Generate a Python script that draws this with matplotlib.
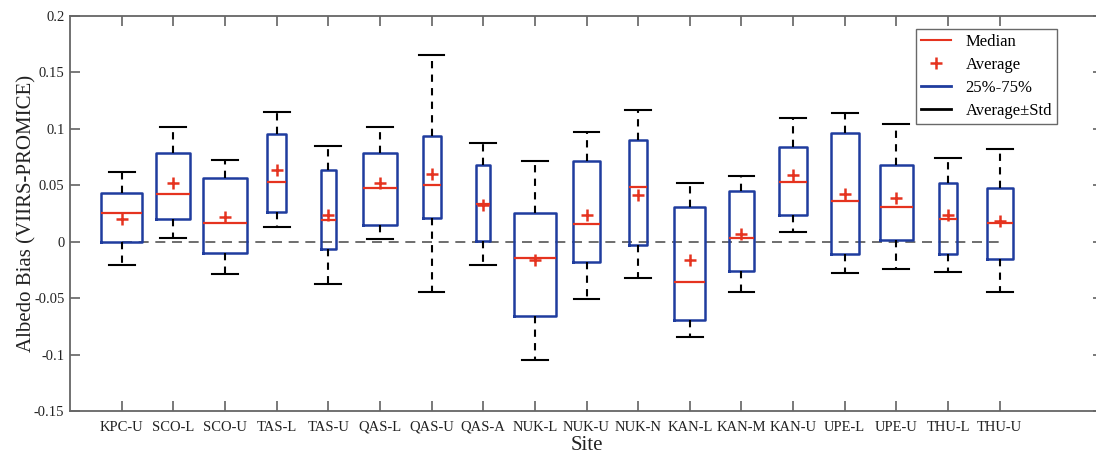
import matplotlib
matplotlib.use("Agg")
import matplotlib.pyplot as plt
from matplotlib.lines import Line2D

sites = ["KPC-U", "SCO-L", "SCO-U", "TAS-L", "TAS-U", "QAS-L", "QAS-U", "QAS-A",
         "NUK-L", "NUK-U", "NUK-N", "KAN-L", "KAN-M", "KAN-U", "UPE-L", "UPE-U",
         "THU-L", "THU-U"]
q1 = [-0.0006, 0.0198, -0.0100, 0.0260, -0.0062, 0.0150, 0.0210, 0.0010,
      -0.0660, -0.0183, -0.0030, -0.0690, -0.0260, 0.0239, -0.0112, 0.0018,
      -0.0109, -0.0156]
q3 = [0.0430, 0.0790, 0.0563, 0.0956, 0.0634, 0.0788, 0.0935, 0.0681,
      0.0257, 0.0714, 0.0897, 0.0304, 0.0445, 0.0838, 0.0965, 0.0676,
      0.0522, 0.0475]
median = [0.0254, 0.0420, 0.0168, 0.0528, 0.0189, 0.0472, 0.0504, 0.0330,
          -0.0145, 0.0159, 0.0481, -0.0357, 0.0035, 0.0531, 0.0363, 0.0304,
          0.0198, 0.0168]
average = [0.0200, 0.0520, 0.0215, 0.0637, 0.0239, 0.0520, 0.0599, 0.0324,
           -0.0162, 0.0233, 0.0416, -0.0162, 0.0071, 0.0590, 0.0425, 0.0390,
           0.0233, 0.0183]
avg_plus_std = [0.0622, 0.1020, 0.0720, 0.1147, 0.0847, 0.1020, 0.1658, 0.0876,
                0.0717, 0.0973, 0.1165, 0.0516, 0.0584, 0.1100, 0.1139, 0.1044,
                0.0746, 0.0823]
avg_minus_std = [-0.0204, 0.0030, -0.0283, 0.0127, -0.0375, 0.0027, -0.0448, -0.0210,
                 -0.1050, -0.0504, -0.0324, -0.0844, -0.0445, 0.0086, -0.0280, -0.0245,
                 -0.0265, -0.0448]
box_widths = [0.80, 0.66, 0.84, 0.37, 0.29, 0.66, 0.35, 0.26, 0.80, 0.52, 0.355,
              0.60, 0.50, 0.55, 0.535, 0.64, 0.34, 0.51]
yticks = [-0.15, -0.1, -0.05, 0, 0.05, 0.1, 0.15, 0.2]
ytick_labels = ["-0.15", "-0.1", "-0.05", "0", "0.05", "0.1", "0.15", "0.2"]

plt.rcParams['font.family'] = ['Liberation Serif', 'DejaVu Serif']

BLUE = "#1f3c9e"
RED = "#e5331f"

fig = plt.figure(figsize=(10.96, 4.55), dpi=100)
ax = fig.add_axes([70 / 1096, 1 - 411 / 455, (1103 - 70) / 1096, (411 - 16) / 455])

positions = list(range(1, len(sites) + 1))
ax.plot([positions[0], positions[-1]], [0, 0], color="#555555", lw=1.2,
        linestyle=(0, (6, 4)), zorder=1)

stats = []
for i, s in enumerate(sites):
    stats.append(dict(label=s, med=median[i], q1=q1[i], q3=q3[i],
                      whislo=avg_minus_std[i], whishi=avg_plus_std[i],
                      mean=average[i], fliers=[]))

ax.bxp(stats, positions=positions, widths=box_widths, showmeans=True,
       showfliers=False, capwidths=[0.5] * len(sites),
       boxprops=dict(color=BLUE, linewidth=1.8),
       medianprops=dict(color=RED, linewidth=1.6),
       whiskerprops=dict(color="black", linewidth=1.5, linestyle=(0, (3.5, 3))),
       capprops=dict(color="black", linewidth=1.5),
       meanprops=dict(marker="+", markeredgecolor=RED, markersize=9,
                      markeredgewidth=1.8, linestyle="none"),
       zorder=2)

ax.set_xlim(0, 20)
ax.set_ylim(-0.15, 0.2)
ax.set_xticks(positions)
ax.set_xticklabels(sites, fontsize=10.5)
ax.set_yticks(yticks)
ax.set_yticklabels(ytick_labels, fontsize=10.5)
ax.tick_params(direction="in", length=7, width=1.1, color="#555555",
               top=True, right=True, labelcolor="#222222")
ax.tick_params(axis="x", pad=7)
ax.tick_params(axis="y", pad=4)
for sp in ax.spines.values():
    sp.set_color("#666666")
    sp.set_linewidth(1.3)

ax.set_xlabel("Site", fontsize=15, labelpad=1.5, color="#222222")
ax.set_ylabel("Albedo Bias (VIIRS-PROMICE)", fontsize=15, labelpad=-2, color="#222222")

handles = [
    Line2D([], [], color=RED, lw=1.5),
    Line2D([], [], color=RED, marker="+", linestyle="none", markersize=9, markeredgewidth=1.8),
    Line2D([], [], color=BLUE, lw=2),
    Line2D([], [], color="black", lw=2),
]
labels = ["Median", "Average", "25%-75%", "Average\u00b1Std"]
leg = ax.legend(handles, labels, loc="upper right", bbox_to_anchor=(1057 / 1096, 1 - 29 / 455),
                bbox_transform=fig.transFigure, fontsize=12, frameon=True, fancybox=False,
                edgecolor="#444444", handlelength=1.8, handletextpad=0.9,
                labelspacing=0.42, borderpad=0.3, borderaxespad=0)
leg.get_frame().set_linewidth(1.0)

fig.savefig("out.png", dpi=100)
